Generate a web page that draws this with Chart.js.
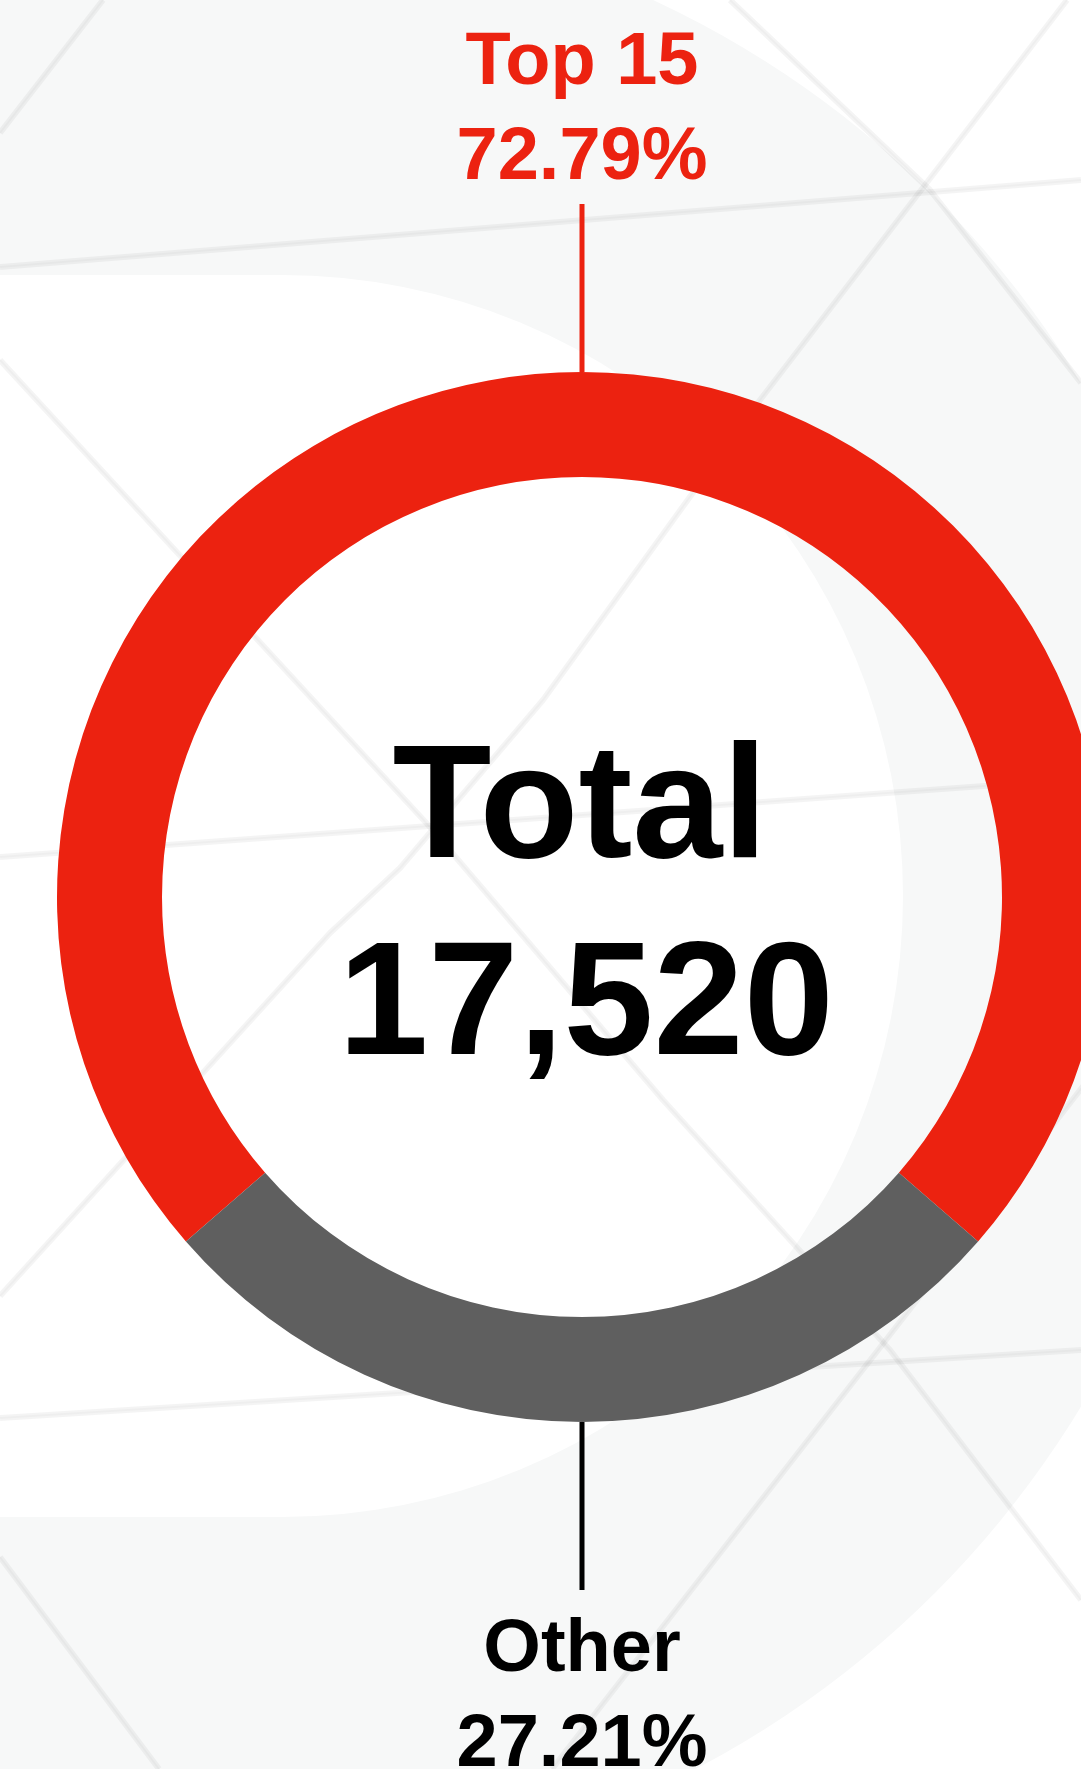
<!DOCTYPE html>
<html>
<head>
<meta charset="utf-8">
<title>Top 15 share</title>
<script src="https://cdn.jsdelivr.net/npm/chart.js@4"></script>
<style>
  html, body { margin: 0; padding: 0; overflow: hidden; background: #fff; }
  #wrap { position: absolute; left: 0; top: 0; width: 1164px; height: 1769px; }
</style>
</head>
<body>
<div id="wrap"><canvas id="donut"></canvas></div>
<script>
// data
const segmentLabels = ["Top 15", "Other"];
const segmentShares = [72.79, 27.21];
const totalLabel = "Total";
const totalValue = 17520;

const segmentColors = ["#ec2210", "#5f5f5f"];
const labelColors = ["#ec2210", "#000000"];

const FONT = '"Liberation Sans", Arial, Helvetica, sans-serif';

// faint lattice lines in the backdrop (decoration only)
const lattice = [
  [[0, 267], [1081, 180]],
  [[0, 857], [1081, 779]],
  [[0, 1418], [1081, 1350]],
  [[730, 0], [930, 190], [1081, 383]],
  [[0, 360], [430, 827], [663, 1100], [890, 1350], [1081, 1600]],
  [[0, 1557], [159, 1769]],
  [[1067, 0], [760, 400], [543, 700], [400, 868], [330, 933], [0, 1296]],
  [[1150, 1000], [917, 1300], [552, 1769]],
  [[103, 0], [0, 133]],
];

const backdrop = {
  id: "backdrop",
  beforeDraw(chart) {
    const ctx = chart.ctx;
    ctx.save();
    ctx.fillStyle = "#ffffff";
    ctx.fillRect(0, 0, chart.width, chart.height);
    // grey crescent band
    ctx.fillStyle = "#f7f8f8";
    ctx.beginPath();
    ctx.arc(237, 895, 987, 0, Math.PI * 2);
    ctx.fill();
    // inner white rounded shape
    ctx.fillStyle = "#ffffff";
    ctx.beginPath();
    ctx.moveTo(-10, 275);
    ctx.lineTo(282, 275);
    ctx.arc(282, 896, 621, -Math.PI / 2, Math.PI / 2);
    ctx.lineTo(-10, 1517);
    ctx.closePath();
    ctx.fill();

    ctx.lineJoin = "round";
    for (const pts of lattice) {
      ctx.beginPath();
      pts.forEach(([x, y], i) => (i ? ctx.lineTo(x, y) : ctx.moveTo(x, y)));
      ctx.strokeStyle = "rgba(0,0,0,0.045)";
      ctx.lineWidth = 6;
      ctx.stroke();
      ctx.strokeStyle = "rgba(0,0,0,0.025)";
      ctx.lineWidth = 2;
      ctx.stroke();
    }
    ctx.restore();
  },
};

const callouts = {
  id: "callouts",
  afterDraw(chart) {
    const ctx = chart.ctx;
    const arcs = chart.getDatasetMeta(0).data;
    ctx.save();
    ctx.textAlign = "center";
    ctx.textBaseline = "alphabetic";

    arcs.forEach((arc, i) => {
      const mid = (arc.startAngle + arc.endAngle) / 2;
      const dx = Math.cos(mid);
      const dy = Math.sin(mid);
      const r0 = arc.outerRadius;
      const r1 = arc.outerRadius + 168;
      const x1 = arc.x + dx * r1;
      const y1 = arc.y + dy * r1;

      ctx.strokeStyle = labelColors[i];
      ctx.lineWidth = 5;
      ctx.beginPath();
      ctx.moveTo(arc.x + dx * r0, arc.y + dy * r0);
      ctx.lineTo(x1, y1);
      ctx.stroke();

      ctx.fillStyle = labelColors[i];
      ctx.font = `bold 74px ${FONT}`;
      const pct = segmentShares[i].toFixed(2) + "%";
      if (dy < 0) {
        ctx.fillText(pct, x1, y1 - 25);
        ctx.fillText(segmentLabels[i], x1, y1 - 120);
      } else {
        ctx.fillText(segmentLabels[i], x1, y1 + 81);
        ctx.fillText(pct, x1, y1 + 176);
      }
    });

    // centre total
    const c = arcs[0];
    ctx.fillStyle = "#000";
    ctx.font = `bold 162px ${FONT}`;
    ctx.fillText(totalLabel, c.x - 2, c.y - 40);
    ctx.fillText(totalValue.toLocaleString("en-US"), c.x + 4, c.y + 157);
    ctx.restore();
  },
};

const shareSum = segmentShares.reduce((a, b) => a + b, 0);

new Chart(document.getElementById("donut").getContext("2d"), {
  type: "doughnut",
  data: {
    labels: segmentLabels,
    datasets: [
      {
        data: segmentShares,
        backgroundColor: segmentColors,
        borderWidth: 0,
      },
    ],
  },
  options: {
    responsive: true,
    maintainAspectRatio: false,
    animation: false,
    cutout: "80%",
    // centre the first slice on the top
    rotation: -(segmentShares[0] / shareSum) * 180,
    layout: { padding: { top: 372, bottom: 347, left: 57, right: 57 } },
    plugins: {
      legend: { display: false },
      tooltip: { enabled: false },
    },
  },
  plugins: [backdrop, callouts],
});
</script>
</body>
</html>
